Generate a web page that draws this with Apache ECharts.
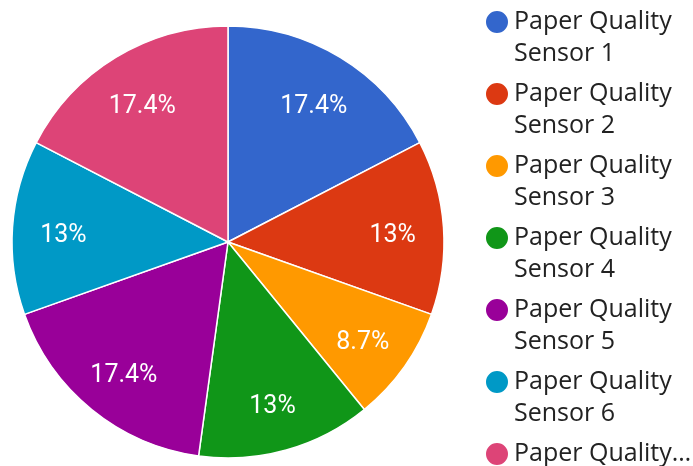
<!DOCTYPE html>
<html><head><meta charset="utf-8">
<script src="https://cdn.jsdelivr.net/npm/echarts@6/dist/echarts.min.js"></script>
<style>html,body{margin:0;padding:0;background:#fff}#c{width:693px;height:466px}</style>
</head><body><div id="c"></div>
<script>
const categories = ["Paper Quality Sensor 1","Paper Quality Sensor 2","Paper Quality Sensor 3","Paper Quality Sensor 4","Paper Quality Sensor 5","Paper Quality Sensor 6","Paper Quality Sensor 7"];
const values = [4, 3, 2, 3, 4, 3, 4];
const legendLabels = ["Paper Quality\nSensor 1","Paper Quality\nSensor 2","Paper Quality\nSensor 3","Paper Quality\nSensor 4","Paper Quality\nSensor 5","Paper Quality\nSensor 6","Paper Quality…"];
const colors = ["#3366cc","#dc3912","#ff9900","#109618","#990099","#0099c6","#dd4477"];

const data = categories.map((n, i) => ({ name: n, value: values[i] }));
const total = values.reduce((a, b) => a + b, 0);
function pct(v) {
  const p = Math.round(v / total * 1000) / 10;
  return (Number.isInteger(p) ? p.toFixed(0) : p.toFixed(1)) + '%';
}
function legendText(name) {
  const lines = legendLabels[categories.indexOf(name)].split('\n');
  // pad to three lines so the icon lines up with the first text line
  return '\n' + lines[0] + '\n' + (lines[1] || ' ');
}
const chart = echarts.init(document.getElementById('c'), null, { renderer: 'canvas' });
chart.setOption({
  animation: false,
  color: colors,
  legend: {
    orient: 'vertical',
    left: 484,
    top: -26,
    height: 800,
    padding: 0,
    itemGap: -24,
    itemWidth: 24,
    itemHeight: 24,
    itemTextGap: 14,
    icon: 'circle',
    selectedMode: false,
    data: categories,
    formatter: legendText,
    textStyle: {
      fontFamily: 'Open Sans',
      fontSize: 25,
      lineHeight: 32,
      color: '#222222'
    }
  },
  series: [
    {
      type: 'pie',
      center: [228, 242],
      radius: 216,
      startAngle: 90,
      clockwise: true,
      data: data,
      label: { show: false },
      labelLine: { show: false },
      itemStyle: { borderColor: '#ffffff', borderWidth: 1.5 },
      emphasis: { disabled: true }
    },
    {
      type: 'pie',
      center: [228, 242],
      radius: [108, 216],
      startAngle: 90,
      clockwise: true,
      silent: true,
      data: data,
      itemStyle: { color: 'rgba(0,0,0,0)', borderWidth: 0 },
      label: {
        show: true,
        position: 'inside',
        formatter: p => '{s| }\n{v|' + pct(p.value) + '}',
        rich: {
          s: { fontSize: 1, lineHeight: 11 },
          v: { color: '#ffffff', fontFamily: 'Roboto', fontSize: 25, lineHeight: 30 }
        }
      },
      labelLine: { show: false },
      emphasis: { disabled: true }
    }
  ]
});
</script></body></html>
